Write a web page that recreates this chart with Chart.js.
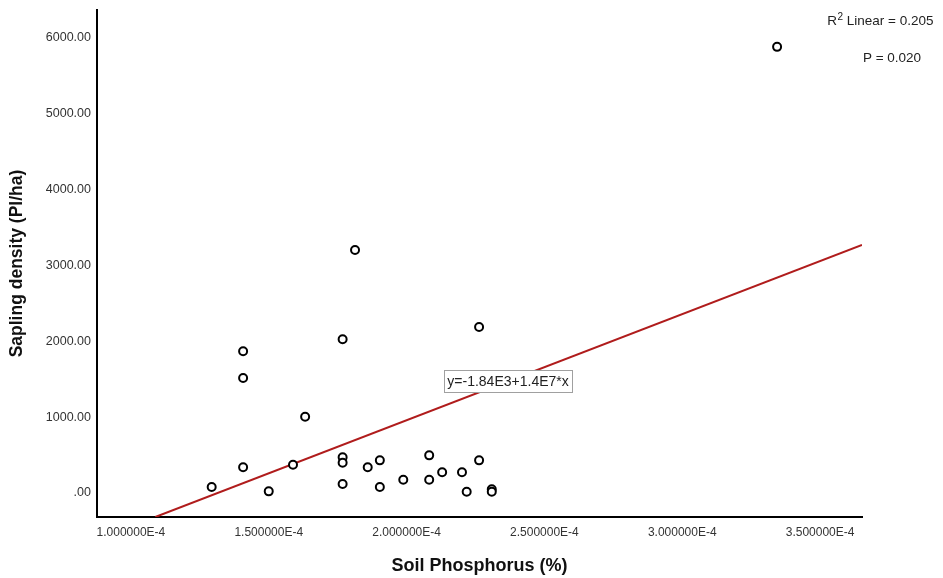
<!DOCTYPE html>
<html>
<head>
<meta charset="utf-8">
<title>Sapling density vs Soil Phosphorus</title>
<script src="https://cdn.jsdelivr.net/npm/chart.js@4/dist/chart.umd.min.js"></script>
<style>
  html, body { margin: 0; padding: 0; background: #fff; }
  #wrap { width: 943px; height: 578px; }
</style>
</head>
<body>
<div id="wrap"><canvas id="c" width="943" height="578"></canvas></div>
<script>
// Soil phosphorus (%) per plot
const phosphorus = [
  3.344e-4, 1.813e-4, 2.263e-4, 1.407e-4, 1.768e-4, 1.407e-4, 1.632e-4,
  1.293e-4, 1.407e-4, 1.500e-4, 1.588e-4, 1.768e-4, 1.768e-4, 1.768e-4,
  1.859e-4, 1.903e-4, 1.903e-4, 1.988e-4, 2.082e-4, 2.082e-4, 2.129e-4,
  2.201e-4, 2.218e-4, 2.263e-4, 2.309e-4, 2.309e-4
];
// Sapling density (Pl/ha) per plot
const saplingDensity = [
  5883, 3205, 2190, 1869, 2027, 1517, 1006,
  79, 339, 22, 373, 471, 400, 119,
  339, 431, 79, 175, 497, 175, 273,
  273, 17, 431, 49, 17
];

// Linear fit: y = intercept + slope * x
const fitIntercept = -1.84e3;
const fitSlope = 1.4e7;
const fitLabel = 'y=-1.84E3+1.4E7*x';
const fitLabelAtX = 2.368e-4;
const rSquaredText = ' Linear = 0.205';
const pValueText = 'P = 0.020';

// Axis ranges and tick values
const xRange = [0.877e-4, 3.652e-4];
const yRange = [-316, 6369];
const xTicks = [1.0e-4, 1.5e-4, 2.0e-4, 2.5e-4, 3.0e-4, 3.5e-4];
const yTicks = [0, 1000, 2000, 3000, 4000, 5000, 6000];

const FONT = 'Liberation Sans, Arial, Helvetica, sans-serif';
const fitY = x => fitIntercept + fitSlope * x;
const fitStartX = Math.max(xRange[0], (yRange[0] - fitIntercept) / fitSlope);

const points = phosphorus.map((x, i) => ({ x: x, y: saplingDensity[i] }));
const fitLine = [
  { x: fitStartX, y: fitY(fitStartX) },
  { x: xRange[1], y: fitY(xRange[1]) }
];

// Draws the fit equation box and the R²/P statistics
const statsPlugin = {
  id: 'statsText',
  afterDatasetsDraw(chart) {
    const ctx = chart.ctx;
    const xs = chart.scales.x, ys = chart.scales.y;
    ctx.save();

    // equation label on the fit line
    ctx.font = '14px ' + FONT;
    const tw = ctx.measureText(fitLabel).width;
    const cx = xs.getPixelForValue(fitLabelAtX);
    const cy = ys.getPixelForValue(fitY(fitLabelAtX));
    const bw = tw + 7, bh = 22;
    ctx.fillStyle = '#ffffff';
    ctx.fillRect(cx - bw / 2, cy - bh / 2, bw, bh);
    ctx.strokeStyle = '#a0a0a0';
    ctx.lineWidth = 1;
    ctx.strokeRect(Math.round(cx - bw / 2) + 0.5, Math.round(cy - bh / 2) + 0.5, Math.round(bw), bh);
    ctx.fillStyle = '#222';
    ctx.textAlign = 'center';
    ctx.textBaseline = 'middle';
    ctx.fillText(fitLabel, cx, cy + 1);

    // R² and P values, upper right
    ctx.textAlign = 'left';
    ctx.textBaseline = 'alphabetic';
    ctx.font = '13.5px ' + FONT;
    const wR = ctx.measureText('R').width;
    const wRest = ctx.measureText(rSquaredText).width;
    ctx.font = '10px ' + FONT;
    const w2 = ctx.measureText('2').width;
    const right = 933;
    const x0 = right - (wR + w2 + wRest);
    const base = 25;
    ctx.font = '13.5px ' + FONT;
    ctx.fillText('R', x0, base);
    ctx.font = '10px ' + FONT;
    ctx.fillText('2', x0 + wR + 0.5, base - 5);
    ctx.font = '13.5px ' + FONT;
    ctx.fillText(rSquaredText, x0 + wR + w2 + 0.5, base);

    ctx.textAlign = 'center';
    ctx.fillText(pValueText, 892, 62);
    ctx.restore();
  }
};

new Chart(document.getElementById('c'), {
  type: 'scatter',
  data: {
    datasets: [
      {
        label: 'Plots',
        data: points,
        pointStyle: 'circle',
        pointRadius: 4,
        pointBorderWidth: 2,
        pointBorderColor: '#000',
        pointBackgroundColor: '#fff',
        pointHoverRadius: 4
      },
      {
        label: 'Linear fit',
        type: 'line',
        data: fitLine,
        borderColor: '#b01c1c',
        borderWidth: 2,
        pointRadius: 0,
        fill: false
      }
    ]
  },
  options: {
    responsive: false,
    animation: false,
    layout: { padding: { top: 10, right: 81, left: 0, bottom: 0 } },
    plugins: {
      legend: { display: false },
      tooltip: { enabled: false }
    },
    scales: {
      x: {
        type: 'linear',
        min: xRange[0],
        max: xRange[1],
        grid: { display: false, drawTicks: false },
        border: { display: true, color: '#000', width: 2 },
        afterBuildTicks: s => { s.ticks = xTicks.map(v => ({ value: v })); },
        afterFit: s => { s.height = 61; s.paddingLeft = 0; s.paddingRight = 0; },
        ticks: {
          padding: 8,
          color: '#333',
          font: { family: FONT, size: 12 },
          maxRotation: 0,
          autoSkip: false,
          callback: v => v.toExponential(6).toUpperCase()
        },
        title: {
          display: true,
          text: 'Soil Phosphorus (%)',
          color: '#111',
          font: { family: FONT, size: 18, weight: 'bold' },
          padding: { top: 0, bottom: 1 }
        }
      },
      y: {
        type: 'linear',
        min: yRange[0],
        max: yRange[1],
        grid: { display: false, drawTicks: false },
        border: { display: true, color: '#000', width: 2 },
        afterBuildTicks: s => { s.ticks = yTicks.map(v => ({ value: v })); },
        afterFit: s => { s.width = 97; s.paddingTop = 0; s.paddingBottom = 0; },
        ticks: {
          padding: 6,
          color: '#333',
          font: { family: FONT, size: 12.5 },
          autoSkip: false,
          callback: v => v === 0 ? '.00' : v.toFixed(2)
        },
        title: {
          display: true,
          text: 'Sapling density (Pl/ha)',
          color: '#111',
          font: { family: FONT, size: 17.5, weight: 'bold' },
          padding: { top: 7, bottom: 0 }
        }
      }
    }
  },
  plugins: [statsPlugin]
});
</script>
</body>
</html>
